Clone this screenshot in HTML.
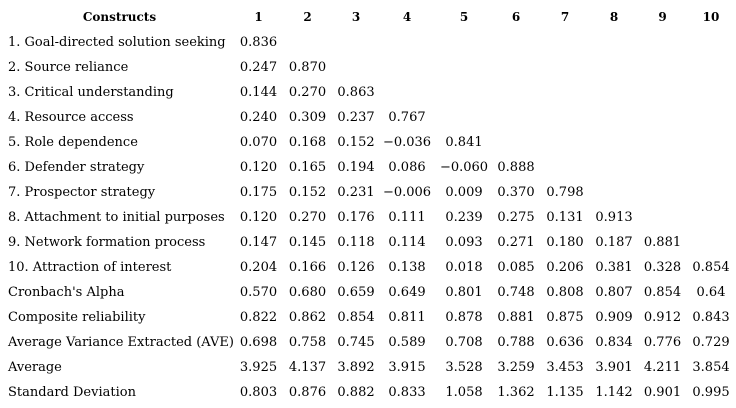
<!DOCTYPE html>
<html>
<head>
<meta charset="utf-8">
<style>
  html, body { margin:0; padding:0; background:#fff; }
  body { width:736px; height:408px; position:relative; overflow:hidden;
         font-family:"DejaVu Serif","Liberation Serif",serif; font-size:13px; color:#000; }
  .r { position:absolute; left:0; width:736px; height:25px; line-height:25px; white-space:nowrap; }
  .l { position:absolute; left:8px; }
  .c { position:absolute; width:70px; text-align:center; }
  .h { font-weight:bold; font-size:12px; }
  .c1{left:223.5px}.c2{left:272.5px}.c3{left:321px}.c4{left:372px}.c5{left:429px}
  .c6{left:481px}.c7{left:530px}.c8{left:579px}.c9{left:627.5px}.c10{left:676px}
</style>
</head>
<body>
<div class="r h" style="top:5px">
  <span class="c" style="left:69.5px;width:100px">Constructs</span>
  <span class="c c1">1</span><span class="c c2">2</span><span class="c c3">3</span><span class="c c4">4</span><span class="c c5">5</span><span class="c c6">6</span><span class="c c7">7</span><span class="c c8">8</span><span class="c c9">9</span><span class="c c10">10</span>
</div>
<div class="r" style="top:30px"><span class="l">1. Goal-directed solution seeking</span>
  <span class="c c1">0.836</span></div>
<div class="r" style="top:55px"><span class="l">2. Source reliance</span>
  <span class="c c1">0.247</span><span class="c c2">0.870</span></div>
<div class="r" style="top:80px"><span class="l">3. Critical understanding</span>
  <span class="c c1">0.144</span><span class="c c2">0.270</span><span class="c c3">0.863</span></div>
<div class="r" style="top:105px"><span class="l">4. Resource access</span>
  <span class="c c1">0.240</span><span class="c c2">0.309</span><span class="c c3">0.237</span><span class="c c4">0.767</span></div>
<div class="r" style="top:130px"><span class="l">5. Role dependence</span>
  <span class="c c1">0.070</span><span class="c c2">0.168</span><span class="c c3">0.152</span><span class="c c4">&#8722;0.036</span><span class="c c5">0.841</span></div>
<div class="r" style="top:155px"><span class="l">6. Defender strategy</span>
  <span class="c c1">0.120</span><span class="c c2">0.165</span><span class="c c3">0.194</span><span class="c c4">0.086</span><span class="c c5">&#8722;0.060</span><span class="c c6">0.888</span></div>
<div class="r" style="top:180px"><span class="l">7. Prospector strategy</span>
  <span class="c c1">0.175</span><span class="c c2">0.152</span><span class="c c3">0.231</span><span class="c c4">&#8722;0.006</span><span class="c c5">0.009</span><span class="c c6">0.370</span><span class="c c7">0.798</span></div>
<div class="r" style="top:205px"><span class="l">8. Attachment to initial purposes</span>
  <span class="c c1">0.120</span><span class="c c2">0.270</span><span class="c c3">0.176</span><span class="c c4">0.111</span><span class="c c5">0.239</span><span class="c c6">0.275</span><span class="c c7">0.131</span><span class="c c8">0.913</span></div>
<div class="r" style="top:230px"><span class="l">9. Network formation process</span>
  <span class="c c1">0.147</span><span class="c c2">0.145</span><span class="c c3">0.118</span><span class="c c4">0.114</span><span class="c c5">0.093</span><span class="c c6">0.271</span><span class="c c7">0.180</span><span class="c c8">0.187</span><span class="c c9">0.881</span></div>
<div class="r" style="top:255px"><span class="l">10. Attraction of interest</span>
  <span class="c c1">0.204</span><span class="c c2">0.166</span><span class="c c3">0.126</span><span class="c c4">0.138</span><span class="c c5">0.018</span><span class="c c6">0.085</span><span class="c c7">0.206</span><span class="c c8">0.381</span><span class="c c9">0.328</span><span class="c c10">0.854</span></div>
<div class="r" style="top:280px"><span class="l">Cronbach's Alpha</span>
  <span class="c c1">0.570</span><span class="c c2">0.680</span><span class="c c3">0.659</span><span class="c c4">0.649</span><span class="c c5">0.801</span><span class="c c6">0.748</span><span class="c c7">0.808</span><span class="c c8">0.807</span><span class="c c9">0.854</span><span class="c c10">0.64</span></div>
<div class="r" style="top:305px"><span class="l">Composite reliability</span>
  <span class="c c1">0.822</span><span class="c c2">0.862</span><span class="c c3">0.854</span><span class="c c4">0.811</span><span class="c c5">0.878</span><span class="c c6">0.881</span><span class="c c7">0.875</span><span class="c c8">0.909</span><span class="c c9">0.912</span><span class="c c10">0.843</span></div>
<div class="r" style="top:330px"><span class="l">Average Variance Extracted (AVE)</span>
  <span class="c c1">0.698</span><span class="c c2">0.758</span><span class="c c3">0.745</span><span class="c c4">0.589</span><span class="c c5">0.708</span><span class="c c6">0.788</span><span class="c c7">0.636</span><span class="c c8">0.834</span><span class="c c9">0.776</span><span class="c c10">0.729</span></div>
<div class="r" style="top:355px"><span class="l">Average</span>
  <span class="c c1">3.925</span><span class="c c2">4.137</span><span class="c c3">3.892</span><span class="c c4">3.915</span><span class="c c5">3.528</span><span class="c c6">3.259</span><span class="c c7">3.453</span><span class="c c8">3.901</span><span class="c c9">4.211</span><span class="c c10">3.854</span></div>
<div class="r" style="top:380px"><span class="l">Standard Deviation</span>
  <span class="c c1">0.803</span><span class="c c2">0.876</span><span class="c c3">0.882</span><span class="c c4">0.833</span><span class="c c5">1.058</span><span class="c c6">1.362</span><span class="c c7">1.135</span><span class="c c8">1.142</span><span class="c c9">0.901</span><span class="c c10">0.995</span></div>
</body>
</html>
